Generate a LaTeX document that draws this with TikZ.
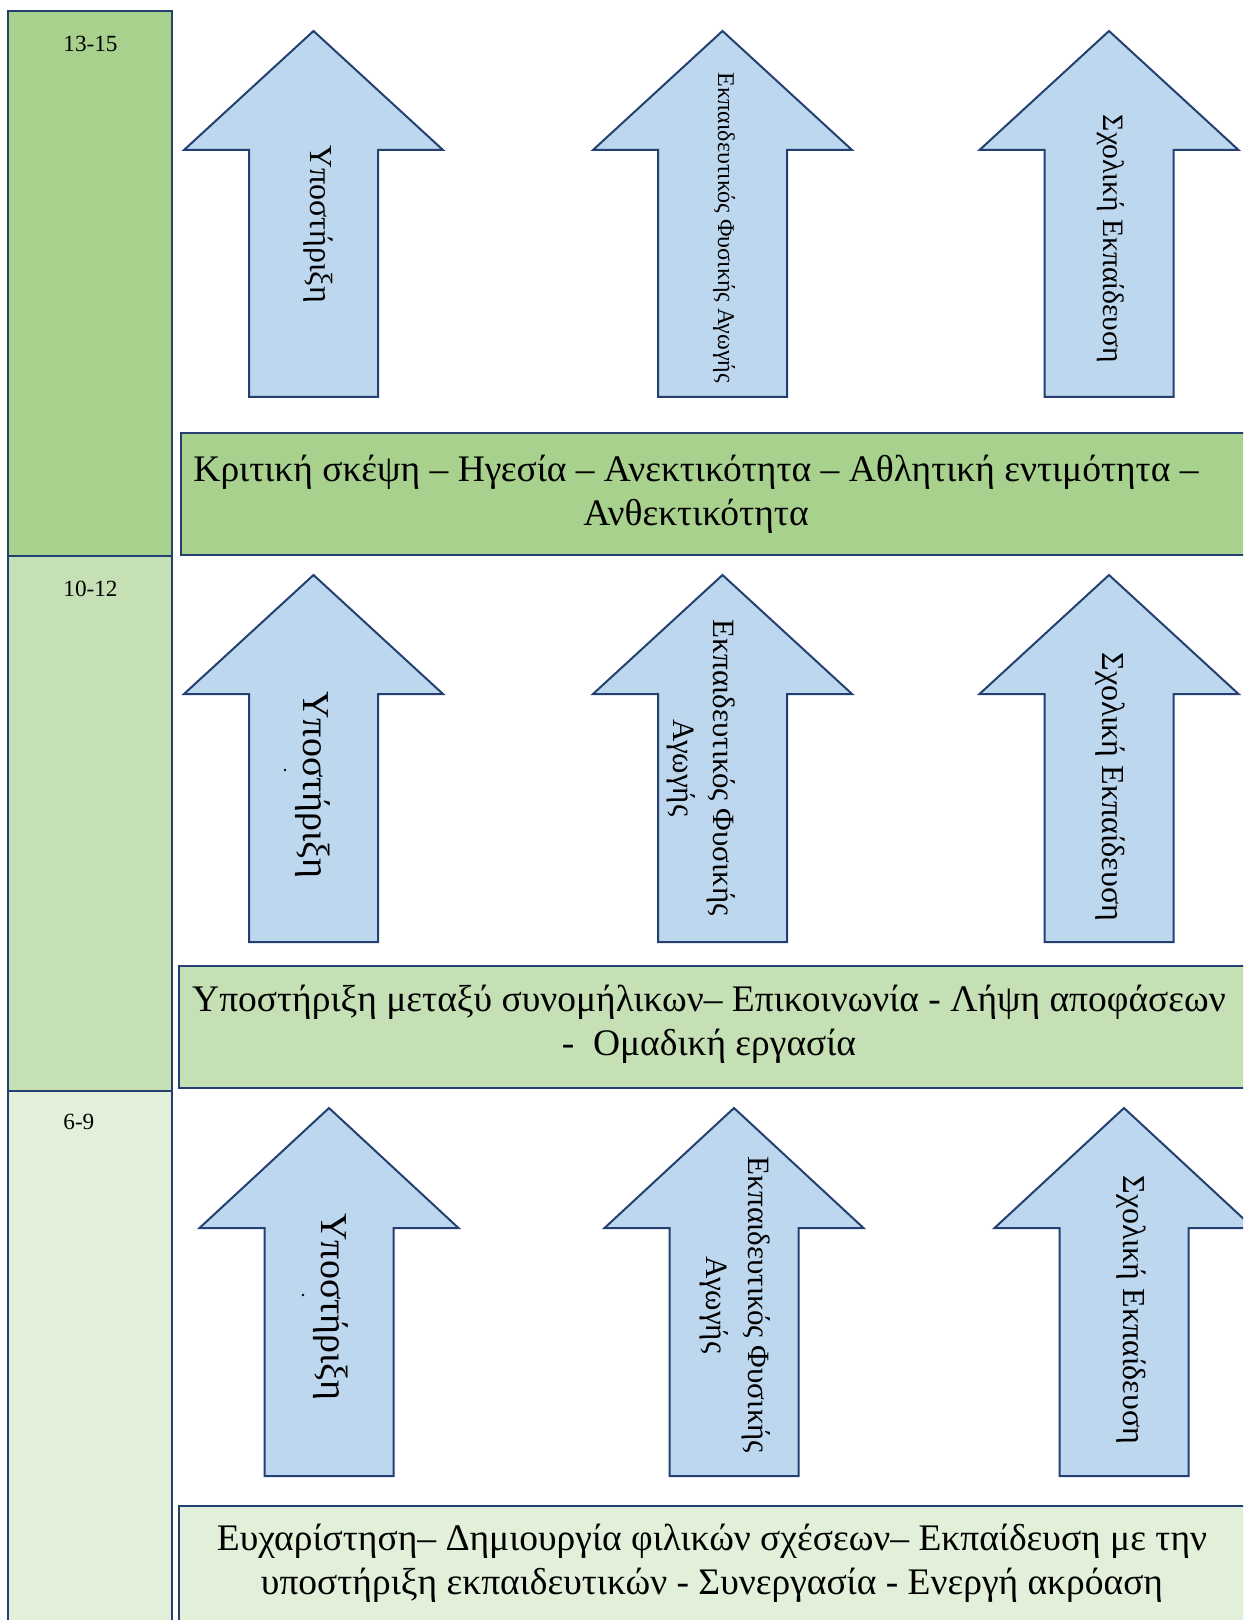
\documentclass[tikz,border=0pt]{standalone}
\usepackage{fontspec}
\setmainfont{Liberation Serif}
\definecolor{edge}{HTML}{243F72}
\definecolor{greenA}{HTML}{A9D18E}
\definecolor{greenB}{HTML}{C5E0B4}
\definecolor{greenC}{HTML}{E2F0D9}
\definecolor{arrowblue}{HTML}{BDD7EE}

\tikzset{
  agecell/.style={draw=edge, line width=1.2pt},
  band/.style={draw=edge, line width=1.2pt},
  uparrow/.style={draw=edge, fill=arrowblue, line width=1pt, line join=miter},
  agelabel/.style={anchor=west, inner sep=0pt, font=\fontsize{11.6}{13}\selectfont},
  bandtext/.style={align=center, inner sep=0pt, font=\fontsize{18.75}{21.8}\selectfont},
  arrowtext/.style={rotate=-90, align=center, inner sep=0pt},
}

% block arrow pointing up: centre x, tip y, head base y, bottom y
\newcommand{\uparrowat}[4]{%
  \draw[uparrow] (#1,#2) -- ({#1+129.5},#3) -- ({#1+64.5},#3) -- ({#1+64.5},#4)
    -- ({#1-64.5},#4) -- ({#1-64.5},#3) -- ({#1-129.5},#3) -- cycle;}

\begin{document}
\begin{tikzpicture}[x=0.5pt,y=-0.5pt]
\useasboundingbox (0,0) rectangle (1243,1620);
\clip (0,0) rectangle (1243,1620);

% age column
\draw[agecell, fill=greenA] (8,11) rectangle (172,556);
\draw[agecell, fill=greenB] (8,556) rectangle (172,1091);
\draw[agecell, fill=greenC] (8,1091) rectangle (172,1700);
\node[agelabel] (ageA) at (63,44) {13-15};
\node[agelabel] (ageB) at (63,589) {10-12};
\node[agelabel] (ageC) at (63,1122) {6-9};

% skill bands
\draw[band, fill=greenA] (181,433) rectangle (1300,555);
\draw[band, fill=greenB] (179,966) rectangle (1300,1088);
\draw[band, fill=greenC] (179,1506) rectangle (1300,1700);
\node[bandtext] (skillsA) at (696,494)
  {Κριτική σκέψη – Ηγεσία – Ανεκτικότητα – Αθλητική εντιμότητα –\\Ανθεκτικότητα};
\node[bandtext] (skillsB) at (709,1024)
  {Υποστήριξη μεταξύ συνομήλικων– Επικοινωνία - Λήψη αποφάσεων\\-~~Ομαδική εργασία};
\node[bandtext] (skillsC) at (712,1563)
  {Ευχαρίστηση– Δημιουργία φιλικών σχέσεων– Εκπαίδευση με την\\υποστήριξη εκπαιδευτικών - Συνεργασία - Ενεργή ακρόαση};

% top row arrows
\uparrowat{313.5}{31}{150}{397}
\uparrowat{722.5}{31}{150}{397}
\uparrowat{1109}{31}{150}{397}
\node[arrowtext, font=\fontsize{16}{19}\selectfont] (supA) at (318,224) {Υποστήριξη};
\node[arrowtext, font=\fontsize{12}{15}\selectfont] (teachA) at (724,228) {Εκπαιδευτικός Φυσικής Αγωγής};
\node[arrowtext, font=\fontsize{14.8}{17}\selectfont] (schoolA) at (1111,239) {Σχολική Εκπαίδευση};

% middle row arrows
\uparrowat{313.5}{575}{694}{942}
\uparrowat{722.5}{575}{694}{942}
\uparrowat{1109}{575}{694}{942}
\node[arrowtext, font=\fontsize{19}{22}\selectfont] (supB) at (313,785) {Υποστήριξη};
\fill (285,770) circle (1.3);
\node[arrowtext, font=\fontsize{15.5}{20}\selectfont] (teachB) at (701,768) {Εκπαιδευτικός Φυσικής\\Αγωγής};
\node[arrowtext, font=\fontsize{16}{19}\selectfont] (schoolB) at (1110,787) {Σχολική Εκπαίδευση};

% bottom row arrows
\uparrowat{329}{1108}{1228}{1476}
\uparrowat{734}{1108}{1228}{1476}
\uparrowat{1124}{1108}{1228}{1476}
\node[arrowtext, font=\fontsize{19}{22}\selectfont] (supC) at (331,1307) {Υποστήριξη};
\fill (303,1295) circle (1.3);
\node[arrowtext, font=\fontsize{15.5}{21}\selectfont] (teachC) at (735,1305) {Εκπαιδευτικός Φυσικής\\Αγωγής};
\node[arrowtext, font=\fontsize{16}{19}\selectfont] (schoolC) at (1131,1310) {Σχολική Εκπαίδευση};
\end{tikzpicture}
\end{document}
